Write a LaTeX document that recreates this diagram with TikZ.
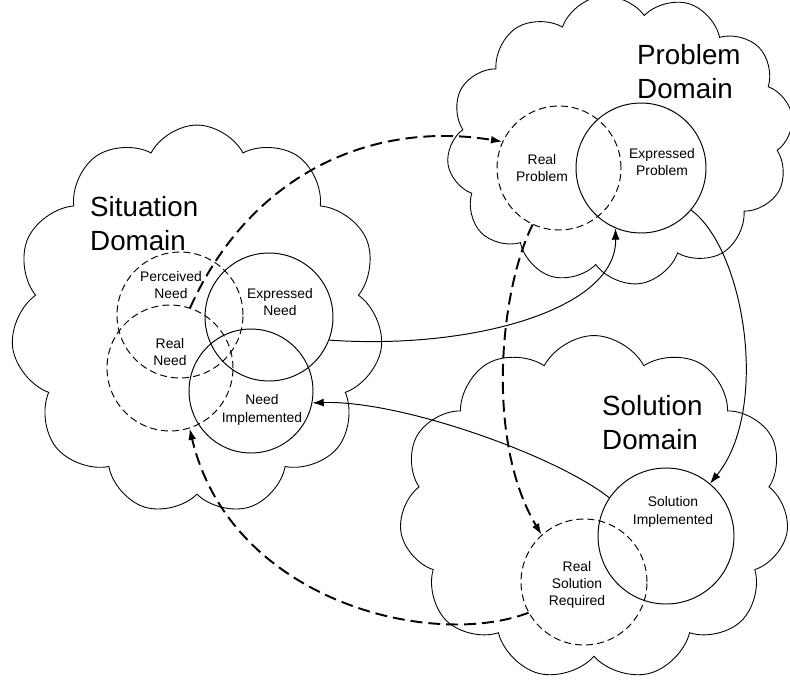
\documentclass[tikz,border=0pt]{standalone}
\usepackage{fontspec}
\setmainfont{Liberation Sans}
\usetikzlibrary{arrows.meta,shapes.symbols}

\begin{document}
\begin{tikzpicture}[
    x=0.02cm, y=-0.02cm,
    domain cloud/.style={cloud, draw, line width=0.5pt, cloud puffs=11, cloud puff arc=125, aspect=1},
    expressed circle/.style={circle, draw, line width=0.55pt, inner sep=0pt, minimum size=2.52cm},
    real circle/.style={expressed circle, dash pattern=on 4pt off 2.3pt},
    flow/.style={line width=0.55pt, -{Latex[length=6.5pt,width=4.5pt]}},
    real flow/.style={line width=1.1pt, dash pattern=on 6.8pt off 3.4pt, -{Latex[length=6.5pt,width=4.5pt]}},
    domain label/.style={align=left, font=\fontsize{15.8}{19.3}\selectfont},
    inner text/.style={align=center, font=\fontsize{7.9}{9.8}\selectfont},
    every node/.style={color=black}
    ]
\useasboundingbox (0,0) rectangle (790,680);

% the three domains
\node[domain cloud, minimum width=7.45cm, minimum height=7.8cm] (sitCloud) at (197,320) {};
\node[domain cloud, minimum width=6.95cm, minimum height=5.8cm, cloud puffs=12, rotate=8] (probCloud) at (620,140) {};
\node[domain cloud, minimum width=7.8cm, minimum height=6.9cm] (solCloud) at (594,508) {};

\node[domain label, anchor=west] (sitLabel) at (84,224) {Situation\\Domain};
\node[domain label, anchor=west] (probLabel) at (631,72) {Problem\\Domain};
\node[domain label, anchor=west] (solLabel) at (596,423) {Solution\\Domain};

% situation domain
\node[real circle] (percNeed) at (180,315) {};
\node[real circle] (realNeed) at (170,368) {};
\node[expressed circle, minimum size=2.56cm] (exprNeed) at (269,317) {};
\node[expressed circle, minimum size=2.48cm] (implNeed) at (251,391) {};
\node[inner text] at (171,285) {Perceived\\Need};
\node[inner text] at (170,352) {Real\\Need};
\node[inner text] at (280,302) {Expressed\\Need};
\node[inner text] at (262,410) {Need\\Implemented};

% problem domain
\node[real circle, minimum size=2.48cm] (realProb) at (559,168) {};
\node[expressed circle, minimum size=2.6cm] (exprProb) at (641,168) {};
\node[inner text] at (542,168) {Real\\Problem};
\node[inner text] at (662,162) {Expressed\\Problem};

% solution domain
\node[expressed circle, minimum size=2.72cm] (implSol) at (666,536) {};
\node[real circle] (realSol) at (584,582) {};
\node[inner text] at (673,512) {Solution\\Implemented};
\node[inner text] at (577,585) {Real\\Solution\\Required};

\coordinate (perceivedStart) at (190,308);

% solid flows
\draw[flow] (exprNeed.-21) .. controls (470,350) and (617,310) .. (exprProb.-113);
\draw[flow] (exprProb.-40) .. controls (745,250) and (770,410) .. (implSol.50);
\draw[flow] (implSol.146) .. controls (555,455) and (400,400) .. (implNeed.-11);

% dashed flows
\draw[real flow] (perceivedStart) .. controls (250,175) and (370,120) .. (realProb.155);
\draw[real flow] (realProb.-115) .. controls (500,290) and (485,440) .. (realSol.132);
\draw[real flow] (realSol.-151) .. controls (430,650) and (230,600) .. (realNeed.-72);

\end{tikzpicture}
\end{document}
